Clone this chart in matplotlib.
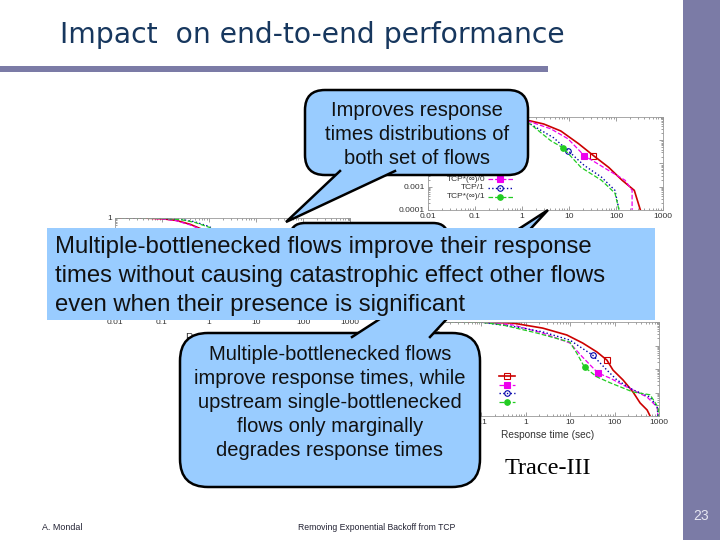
import matplotlib
matplotlib.use("Agg")
import matplotlib.pyplot as plt
from matplotlib.patches import FancyBboxPatch, Polygon, Rectangle
from matplotlib.ticker import FuncFormatter, NullFormatter

# ---- slide text ----
TITLE = "Impact  on end-to-end performance"
BOX_LINES = [
    "Multiple-bottlenecked flows improve their response",
    "times without causing catastrophic effect other flows",
    "even when their presence is significant",
]
TOP_CALLOUT = ["Improves response", "times distributions of", "both set of flows"]
BOTTOM_CALLOUT = [
    "Multiple-bottlenecked flows",
    "improve response times, while",
    "upstream single-bottlenecked",
    "flows only marginally",
    "degrades response times",
]
FOOT_LEFT = "A. Mondal"
FOOT_MID = "Removing Exponential Backoff from TCP"
PAGE = "23"

# ---- plot data (response time in sec vs fraction of flows) ----
XTICKS = [0.01, 0.1, 1, 10, 100, 1000]
YTICKS = [0.0001, 0.001, 0.01, 0.1, 1]
SERIES = ["TCP/0", "TCP*(\u221e)/0", "TCP/1", "TCP*(\u221e)/1"]

# left plot (mostly covered)
left_x = {
    "TCP/0": [0.01, 0.05, 0.1, 0.2, 0.4, 0.7, 1.5, 4, 10, 30, 100, 300],
    "TCP*(\u221e)/0": [0.01, 0.05, 0.1, 0.2, 0.4, 0.7, 1.5, 4, 10, 30, 100, 200],
    "TCP/1": [0.01, 0.06, 0.12, 0.25, 0.5, 1, 2, 5, 12, 40, 120, 400],
    "TCP*(\u221e)/1": [0.01, 0.06, 0.12, 0.25, 0.5, 1, 2, 5, 12, 40, 100, 250],
}
left_y = {
    "TCP/0": [1, 0.98, 0.93, 0.8, 0.55, 0.35, 0.15, 0.04, 0.012, 0.003, 0.0006, 0.0001],
    "TCP*(\u221e)/0": [1, 0.98, 0.92, 0.78, 0.52, 0.33, 0.13, 0.03, 0.008, 0.002, 0.0004, 0.0001],
    "TCP/1": [1, 0.99, 0.96, 0.88, 0.7, 0.45, 0.2, 0.06, 0.015, 0.004, 0.0008, 0.0001],
    "TCP*(\u221e)/1": [1, 0.99, 0.95, 0.86, 0.66, 0.42, 0.18, 0.05, 0.012, 0.003, 0.0006, 0.0001],
}
left_mark = {"TCP/0": 7, "TCP*(\u221e)/0": 7, "TCP/1": 7, "TCP*(\u221e)/1": 7}

# top-right plot
top_x = {
    "TCP/0": [0.01, 0.3, 1.5, 2.9, 6.7, 16, 33, 70, 135, 245, 330],
    "TCP*(\u221e)/0": [0.01, 0.3, 1.5, 4.1, 9.5, 21, 70, 156, 220, 220],
    "TCP/1": [0.01, 0.3, 1.5, 4.7, 9.5, 21, 49, 95, 116],
    "TCP*(\u221e)/1": [0.01, 0.3, 1.5, 4.1, 7.4, 18, 49, 95, 116],
}
top_y = {
    "TCP/0": [1, 0.95, 0.68, 0.5, 0.25, 0.071, 0.022, 0.0068, 0.0019, 0.0007, 0.0001],
    "TCP*(\u221e)/0": [1, 0.9, 0.62, 0.31, 0.116, 0.022, 0.005, 0.0019, 0.0007, 0.0001],
    "TCP/1": [1, 0.85, 0.5, 0.128, 0.036, 0.0083, 0.0026, 0.0007, 0.0001],
    "TCP*(\u221e)/1": [1, 0.85, 0.5, 0.095, 0.048, 0.0068, 0.0019, 0.00053, 0.0001],
}
top_mark = {"TCP/0": 6, "TCP*(\u221e)/0": 5, "TCP/1": 4, "TCP*(\u221e)/1": 4}

# Trace-III plot
t3_x = {
    "TCP/0": [0.01, 0.1, 0.51, 2.4, 8.4, 19, 40, 67, 92, 155, 260, 375, 540, 630],
    "TCP*(\u221e)/0": [0.01, 0.1, 0.51, 2.4, 9.8, 19, 42, 79, 190, 540, 910, 950],
    "TCP/1": [0.01, 0.1, 0.63, 2.4, 9.8, 32, 67, 113, 260, 630, 910, 950],
    "TCP*(\u221e)/1": [0.01, 0.1, 0.3, 1.77, 9.8, 14, 21, 40, 79, 260, 630, 950, 990],
}
t3_y = {
    "TCP/0": [1, 0.99, 0.9, 0.55, 0.28, 0.128, 0.053, 0.024, 0.009, 0.0034, 0.00105, 0.00036, 0.00018, 0.0001],
    "TCP*(\u221e)/0": [1, 0.98, 0.75, 0.34, 0.128, 0.032, 0.0068, 0.0041, 0.0017, 0.00064, 0.00024, 0.0001],
    "TCP/1": [1, 0.97, 0.61, 0.38, 0.17, 0.039, 0.009, 0.0034, 0.0013, 0.00064, 0.00024, 0.0001],
    "TCP*(\u221e)/1": [1, 0.97, 0.75, 0.34, 0.14, 0.048, 0.012, 0.0046, 0.0026, 0.00105, 0.0008, 0.00024, 0.0001],
}
t3_mark = {"TCP/0": 7, "TCP*(\u221e)/0": 6, "TCP/1": 5, "TCP*(\u221e)/1": 6}

STYLE = {
    "TCP/0": dict(color="#cc0000", ls="-", lw=1.2, marker="s", mfc="none"),
    "TCP*(\u221e)/0": dict(color="#ee00ee", ls="--", lw=0.9, marker="s", mfc="#ee00ee"),
    "TCP/1": dict(color="#0000aa", ls=":", lw=1.0, marker="o", mfc="none"),
    "TCP*(\u221e)/1": dict(color="#22cc22", ls="--", lw=0.9, marker="o", mfc="#22cc22"),
}

FILL = "#99ccff"
PURPLE = "#7b7ba6"
SANS = ["Liberation Sans", "DejaVu Sans"]

W, H = 720, 540
fig = plt.figure(figsize=(7.2, 5.4), dpi=100)
plt.rcParams["font.family"] = SANS


def px_axes(l, t, r, b, z=1):
    return fig.add_axes([l / W, 1 - b / H, (r - l) / W, (b - t) / H], zorder=z)


def style_plot(ax):
    ax.set_xscale("log")
    ax.set_yscale("log")
    ax.set_xlim(0.01, 1000)
    ax.set_ylim(1e-4, 1)
    ax.set_xticks(XTICKS)
    ax.set_yticks(YTICKS)
    fmt = FuncFormatter(lambda v, p: f"{v:g}")
    ax.xaxis.set_major_formatter(fmt)
    ax.yaxis.set_major_formatter(fmt)
    ax.xaxis.set_minor_formatter(NullFormatter())
    ax.yaxis.set_minor_formatter(NullFormatter())
    ax.tick_params(which="both", direction="in", top=True, right=True,
                   labelsize=6, labelcolor="#333333", color="#777777",
                   width=0.5, pad=2)
    ax.tick_params(which="major", length=3)
    ax.tick_params(which="minor", length=1.5)
    for s in ax.spines.values():
        s.set_color("#999999")
        s.set_linewidth(0.6)


def draw_series(ax, xs, ys, marks, names):
    for name in names:
        st = STYLE[name]
        ax.plot(xs[name], ys[name], color=st["color"], ls=st["ls"], lw=st["lw"],
                marker=st["marker"], mfc=st["mfc"], mec=st["color"], ms=4,
                mew=0.8, markevery=[marks[name]])


def draw_key(ax, names, ypos, xt, x0, x1):
    for name, yf in zip(names, ypos):
        st = STYLE[name]
        ax.text(xt, yf, name, transform=ax.transAxes, ha="right", va="center",
                fontsize=6, color="#333333")
        ax.plot([x0, (x0 + x1) / 2, x1], [yf, yf, yf], transform=ax.transAxes,
                color=st["color"], ls=st["ls"], lw=st["lw"], marker=st["marker"],
                mfc=st["mfc"], mec=st["color"], ms=4, mew=0.8, markevery=[1])


# left plot
axl = px_axes(115, 218, 350, 316)
style_plot(axl)
draw_series(axl, left_x, left_y, left_mark, SERIES)
axl.set_xlabel("Response time (sec)", fontsize=7.3, color="#333333", labelpad=5)

# top-right plot
axt = px_axes(428, 117, 663, 210)
style_plot(axt)
draw_series(axt, top_x, top_y, top_mark, SERIES)
draw_key(axt, SERIES, [0.43, 0.333, 0.237, 0.140], 0.243, 0.255, 0.362)

# Trace-III plot
ax3 = px_axes(437, 322, 659, 416)
style_plot(ax3)
draw_series(ax3, t3_x, t3_y, t3_mark, SERIES)
draw_key(ax3, SERIES, [0.426, 0.33, 0.245, 0.149], 0.198, 0.279, 0.351)
ax3.set_xlabel("Response time (sec)", fontsize=7.3, color="#333333", labelpad=3)

# overlay in pixel coordinates
ax0 = fig.add_axes([0, 0, 1, 1], zorder=10)
ax0.set_xlim(0, W)
ax0.set_ylim(H, 0)
ax0.axis("off")


def rbox(x0, y0, x1, y1, r, z):
    ax0.add_patch(FancyBboxPatch((x0, y0), x1 - x0, y1 - y0,
                                 boxstyle=f"round,pad=0,rounding_size={r}",
                                 fc=FILL, ec="black", lw=1.8, zorder=z))


def tail(b1, b2, tip, z):
    ax0.add_patch(Polygon([b1, tip, b2], closed=True, fc=FILL, ec="none", zorder=z))
    ax0.plot([b1[0], tip[0], b2[0]], [b1[1], tip[1], b2[1]], color="black",
             lw=1.8, zorder=z, solid_joinstyle="miter")


# slide frame
ax0.add_patch(Rectangle((683, 0), 37, H, fc=PURPLE, ec="none", zorder=1))
ax0.add_patch(Rectangle((0, 66), 548, 6, fc=PURPLE, ec="none", zorder=1))
ax0.text(60, 35, TITLE, fontsize=20.3, color="#17375e", family="DejaVu Sans",
         va="center", ha="left", zorder=1)

# callout hidden behind the big box
rbox(290, 223, 448, 318, 15, 1)

# top callout
rbox(305, 90, 528, 175, 20, 2)
tail((340, 171), (395, 171), (286, 222), 2.1)
for i, line in enumerate(TOP_CALLOUT):
    ax0.text(417, 110 + 24 * i, line, fontsize=14.5, color="#111111",
             ha="center", va="center", zorder=2.2)

# bottom callout
rbox(180, 333, 480, 487, 28, 3)
tail((352, 337), (430, 337), (548, 210), 3.1)
for i, line in enumerate(BOTTOM_CALLOUT):
    ax0.text(330, 354 + 24 * i, line, fontsize=14.5, color="#111111",
             ha="center", va="center", zorder=3.2)

# big statement box
ax0.add_patch(Rectangle((47, 228), 608, 92, fc=FILL, ec="none", zorder=4))
for i, line in enumerate(BOX_LINES):
    ax0.text(55, 247 + 29 * i, line, fontsize=17.2, color="#111111",
             ha="left", va="center", zorder=4.1)

ax0.text(548, 468, "Trace-III", fontsize=17.5, family="Liberation Serif",
         color="black", ha="center", va="center", zorder=5)

# footer
ax0.text(42, 527, FOOT_LEFT, fontsize=6.4, color="#222233", va="center", zorder=5)
ax0.text(298, 527, FOOT_MID, fontsize=6.2, color="#222233", va="center", zorder=5)
ax0.text(701, 516, PAGE, fontsize=10, color="#e6e6f2", ha="center", va="center", zorder=5)

fig.savefig("out.png", dpi=100)
